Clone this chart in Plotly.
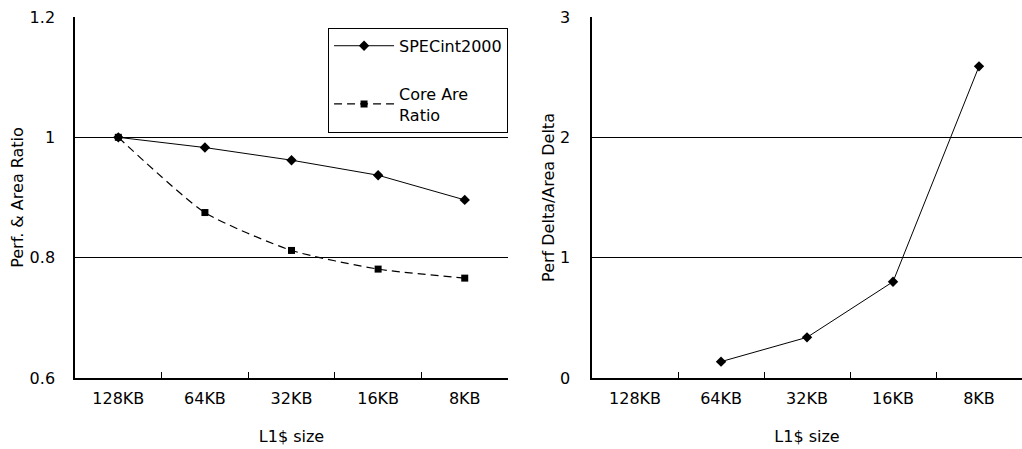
import plotly.graph_objects as go

categories = ["128KB", "64KB", "32KB", "16KB", "8KB"]
specint = [1.0, 0.983, 0.962, 0.937, 0.896]
core_area = [1.0, 0.875, 0.812, 0.781, 0.766]
delta_cats = ["64KB", "32KB", "16KB", "8KB"]
delta_ratio = [0.136, 0.338, 0.80, 2.59]

FONT = "DejaVu Sans, sans-serif"
FS = 16

fig = go.Figure()
fig.add_trace(go.Scatter(
    x=categories, y=specint, name="SPECint2000", mode="lines+markers",
    line=dict(color="black", width=1),
    marker=dict(symbol="diamond", size=8, color="black"),
    xaxis="x", yaxis="y", legendgroup="a"))
fig.add_trace(go.Scatter(
    x=categories, y=core_area, name="Core Are<br>Ratio", mode="lines+markers",
    line=dict(color="black", width=1.2, dash="8px,5px", shape="spline", smoothing=0.6),
    marker=dict(symbol="square", size=7, color="black"),
    xaxis="x", yaxis="y", legendgroup="b"))
fig.add_trace(go.Scatter(
    x=delta_cats, y=delta_ratio, name="delta", mode="lines+markers",
    line=dict(color="black", width=1),
    marker=dict(symbol="diamond", size=8, color="black"),
    xaxis="x2", yaxis="y2", showlegend=False))

xcommon = dict(
    type="category", categoryorder="array", categoryarray=categories,
    range=[-0.5, 4.5], showline=True, linecolor="black", linewidth=1.5,
    ticks="inside", ticklen=6, tickcolor="black", tickson="boundaries",
    showgrid=False, zeroline=False, ticklabelstandoff=5,
    tickfont=dict(family=FONT, size=FS, color="black"),
    title=dict(text="L1$ size", font=dict(family=FONT, size=FS, color="black"), standoff=24),
)
ycommon = dict(
    showline=True, linecolor="black", linewidth=1.5, showgrid=True,
    gridcolor="black", gridwidth=1, zeroline=False, ticks="",
    tickfont=dict(family=FONT, size=FS, color="black"),
)

fig.update_layout(
    width=1022, height=449,
    margin=dict(l=0, r=0, t=17, b=71),
    paper_bgcolor="white", plot_bgcolor="white",
    font=dict(family=FONT, color="black"),
    xaxis=dict(domain=[0.0734, 0.4971], anchor="y", **xcommon),
    xaxis2=dict(domain=[0.5793, 1.0], anchor="y2", **xcommon),
    yaxis=dict(domain=[0, 1], anchor="x", range=[0.6, 1.2], dtick=0.2,
               tickvals=[0.6, 0.8, 1.0, 1.2], ticktext=["0.6", "0.8", "1", "1.2"],
               ticklabelstandoff=15,
               title=dict(text="Perf. & Area Ratio", font=dict(family=FONT, size=FS, color="black"), standoff=2),
               **ycommon),
    yaxis2=dict(domain=[0, 1], anchor="x2", range=[0, 3], dtick=1,
                ticklabelstandoff=17,
                title=dict(text="Perf Delta/Area Delta", font=dict(family=FONT, size=FS, color="black"), standoff=1),
                **ycommon),
    showlegend=True,
    legend=dict(x=0.321, y=0.97, xanchor="left", yanchor="top",
                bordercolor="black", borderwidth=1, bgcolor="white",
                font=dict(family=FONT, size=FS, color="black"),
                traceorder="grouped", tracegroupgap=24, itemwidth=60,
                entrywidth=160),
)

fig.write_html("out.html")
